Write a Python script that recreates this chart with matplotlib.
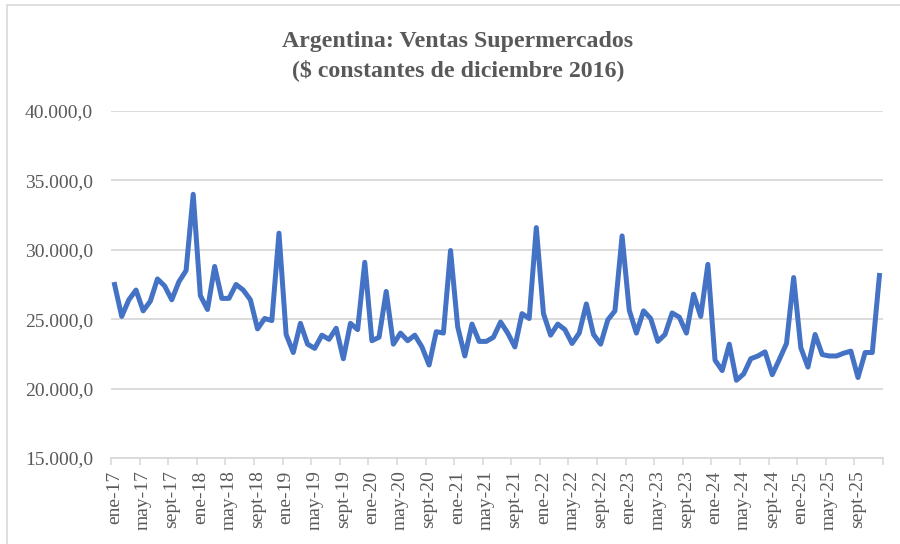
import matplotlib.pyplot as plt
from matplotlib.patches import Rectangle
from matplotlib.ticker import FuncFormatter

# monthly sales, ene-17 .. dic-25 (millions, $ constantes dic-2016)
v2017 = [27500, 25200, 26400, 27100, 25600, 26300, 27900, 27400, 26400, 27700, 28500, 34000]
v2018 = [26700, 25700, 28800, 26500, 26500, 27500, 27100, 26400, 24300, 25050, 24900, 31200]
v2019 = [23900, 22600, 24700, 23200, 22900, 23850, 23550, 24350, 22150, 24700, 24250, 29100]
v2020 = [23450, 23700, 27000, 23200, 24000, 23450, 23850, 23000, 21700, 24100, 24000, 29950]
v2021 = [24450, 22350, 24650, 23400, 23400, 23700, 24800, 24000, 23000, 25400, 25050, 31600]
v2022 = [25400, 23850, 24650, 24250, 23250, 24000, 26100, 23900, 23200, 24950, 25600, 31000]
v2023 = [25650, 24000, 25600, 25050, 23400, 23900, 25450, 25150, 24000, 26800, 25200, 28950]
v2024 = [22050, 21300, 23200, 20600, 21050, 22150, 22350, 22650, 21000, 22100, 23250, 28000]
v2025 = [22950, 21550, 23900, 22450, 22350, 22350, 22550, 22700, 20800, 22600, 22600, 28150]

ventas = v2017 + v2018 + v2019 + v2020 + v2021 + v2022 + v2023 + v2024 + v2025
years = list(range(17, 26))
month_names = ["ene", "may", "sept"]

labels = []
for y in years:
    for m in month_names:
        labels.append(f"{m}-{y}")

gray = "#595959"
plt.rcParams["font.family"] = ["Liberation Serif", "DejaVu Serif"]

fig = plt.figure(figsize=(9, 5.44), dpi=100)
ax = fig.add_axes([111 / 900, 1 - 458 / 544, 772 / 900, 347 / 544])

x = list(range(len(ventas)))
ax.plot(x, ventas, color="#4472C4", linewidth=3.6, solid_joinstyle="round")

ax.set_xlim(-0.5, len(ventas) - 0.5)
ax.set_ylim(15000, 40000)
ax.set_yticks(range(15000, 40001, 5000))
ax.yaxis.set_major_formatter(FuncFormatter(lambda v, p: f"{int(v):,}".replace(",", ".") + ",0"))
ax.grid(axis="y", color="#d9d9d9", linewidth=1.3)
ax.set_axisbelow(True)

ax.set_xticks(list(range(0, len(ventas), 4)))
ax.set_xticklabels(labels, rotation=90)
ax.set_xticks([i - 0.5 for i in range(0, len(ventas) + 1, 4)], minor=True)
ax.tick_params(axis="x", which="major", length=0, pad=9, labelsize=14, labelcolor=gray)
ax.tick_params(axis="x", which="minor", length=5, color="#d9d9d9", width=1.2)
ax.tick_params(axis="y", length=0, pad=13, labelsize=14, labelcolor=gray)

for s in ["left", "right", "top"]:
    ax.spines[s].set_visible(False)
ax.spines["bottom"].set_color("#d9d9d9")
ax.spines["bottom"].set_linewidth(1.3)

fig.text(458 / 900, 1 - 42 / 544, "Argentina: Ventas Supermercados",
         ha="center", va="center", fontsize=17.2, fontweight="bold", color=gray)
fig.text(458 / 900, 1 - 70 / 544, "($ constantes de diciembre 2016)",
         ha="center", va="center", fontsize=17.2, fontweight="bold", color=gray)

fig.patches.append(Rectangle((7 / 900, -0.05), 1.0, 1 - 5 / 544 + 0.05,
                             transform=fig.transFigure, fill=False,
                             edgecolor="#d9d9d9", linewidth=1.2))

fig.savefig("out.png", dpi=100)
